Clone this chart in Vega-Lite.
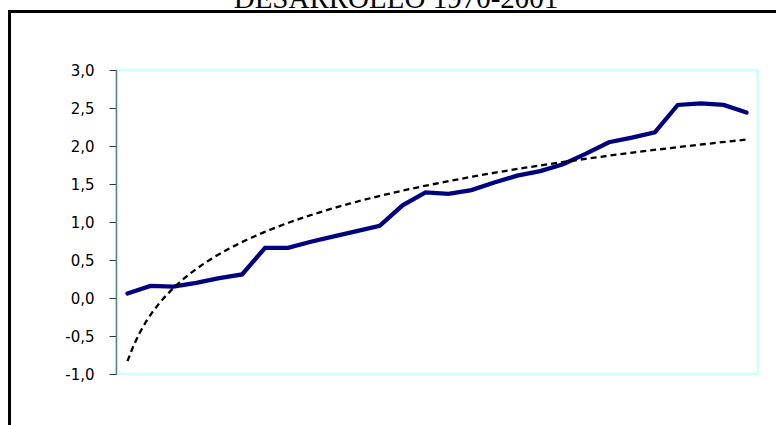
{
  "$schema": "https://vega.github.io/schema/vega-lite/v6.json",
  "autosize": {"type": "none"},
  "width": 642,
  "height": 304,
  "padding": {"left": 116, "top": 70, "right": 18, "bottom": 51},
  "background": "white",
  "title": {
    "text": "DESARROLLO 1970-2001",
    "font": "Liberation Serif",
    "fontSize": 29,
    "fontWeight": "normal",
    "color": "black",
    "anchor": "middle",
    "frame": "group",
    "baseline": "alphabetic",
    "offset": -26,
    "dx": -41
  },
  "config": {
    "view": {"stroke": "#ccffff", "strokeWidth": 2.5},
    "axis": {"grid": false},
    "axisY": {
      "values": [-1, -0.5, 0, 0.5, 1, 1.5, 2, 2.5, 3],
      "labelExpr": "replace(replace(format(datum.value, '.1f'), '.', ','), '\u2212', '-')",
      "labelFont": "DejaVu Sans",
      "labelFontSize": 15,
      "labelColor": "black",
      "labelPadding": 15,
      "labelOverlap": false,
      "tickSize": 7,
      "tickColor": "#333333",
      "domainColor": "#5f8080",
      "domainWidth": 1.5,
      "title": null
    }
  },
  "data": {
    "values": [
      {"x": 1, "v": 0.06}, {"x": 2, "v": 0.16}, {"x": 3, "v": 0.15}, {"x": 4, "v": 0.20},
      {"x": 5, "v": 0.26}, {"x": 6, "v": 0.31}, {"x": 7, "v": 0.66}, {"x": 8, "v": 0.66},
      {"x": 9, "v": 0.74}, {"x": 10, "v": 0.81}, {"x": 11, "v": 0.88}, {"x": 12, "v": 0.95},
      {"x": 13, "v": 1.22}, {"x": 14, "v": 1.39}, {"x": 15, "v": 1.37}, {"x": 16, "v": 1.42},
      {"x": 17, "v": 1.52}, {"x": 18, "v": 1.61}, {"x": 19, "v": 1.67}, {"x": 20, "v": 1.76},
      {"x": 21, "v": 1.90}, {"x": 22, "v": 2.05}, {"x": 23, "v": 2.11}, {"x": 24, "v": 2.18},
      {"x": 25, "v": 2.54}, {"x": 26, "v": 2.56}, {"x": 27, "v": 2.54}, {"x": 28, "v": 2.44}
    ]
  },
  "layer": [
    {
      "mark": {"type": "line", "color": "#000080", "strokeWidth": 4.3, "strokeJoin": "miter", "strokeCap": "round"},
      "encoding": {
        "x": {"field": "x", "type": "quantitative", "scale": {"domain": [0.5, 28.5], "nice": false, "zero": false}, "axis": null},
        "y": {"field": "v", "type": "quantitative", "title": null, "scale": {"domain": [-1, 3], "nice": false, "zero": false}}
      }
    },
    {
      "mark": {"type": "rect", "fill": null, "stroke": "black", "strokeWidth": 2.4, "clip": false},
      "encoding": {
        "x": {"datum": -4.14, "type": "quantitative", "axis": null},
        "x2": {"datum": 30},
        "y": {"datum": 3.767, "type": "quantitative", "title": null},
        "y2": {"datum": -2.0}
      }
    },
    {
      "transform": [
        {"regression": "v", "on": "x", "method": "log", "extent": [1, 28]}
      ],
      "mark": {"type": "line", "color": "black", "strokeWidth": 2.3, "strokeDash": [6, 4]},
      "encoding": {
        "x": {"field": "x", "type": "quantitative", "axis": null},
        "y": {"field": "v", "type": "quantitative", "title": null}
      }
    }
  ],
  "resolve": {"scale": {"x": "shared", "y": "shared"}}
}
